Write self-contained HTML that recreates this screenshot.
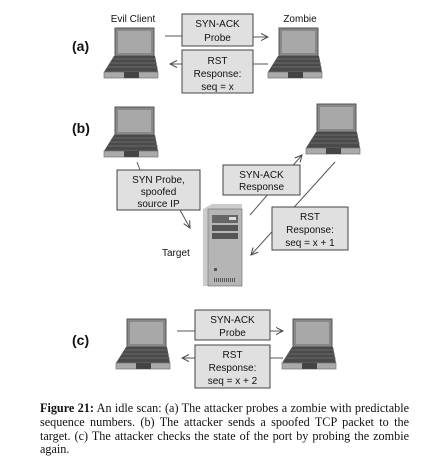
<!DOCTYPE html>
<html><head><meta charset="utf-8"><style>
html,body{margin:0;padding:0;background:#fff;width:448px;height:465px;overflow:hidden}
svg{position:absolute;left:0;top:0}
text{font-family:"Liberation Sans",sans-serif;font-size:10px;fill:#111}
.b{font-weight:bold;font-size:14px}
.cap{position:absolute;left:40px;top:402px;width:369px;font-family:"Liberation Serif",serif;font-size:12.2px;line-height:13.8px;text-align:justify;color:#111}
</style></head><body>
<svg width="448" height="400" viewBox="0 0 448 400">
<defs>
<marker id="ar" markerWidth="8" markerHeight="8" refX="7" refY="4" orient="auto" markerUnits="userSpaceOnUse"><path d="M0,0.5 L7,4 L0,7.5" fill="none" stroke="#444" stroke-width="1"/></marker>
<g id="lap">
<rect x="11" y="0" width="39" height="28" fill="#888" stroke="#555" stroke-width="1"/>
<rect x="14" y="3" width="33" height="22" fill="#a8a8a8"/>
<path d="M10,28 L51,28 L54,44 L0,44 Z" fill="#4a4a4a"/>
<path d="M8,31 L52,31 M6,35 L53,35 M4,39 L54,39" stroke="#777" stroke-width="0.8"/>
<path d="M0,44 L54,44 L54,50 L0,50 Z" fill="#aaa" stroke="#777" stroke-width="0.7"/>
<rect x="20" y="44" width="15" height="6" fill="#444"/>
</g>
</defs>
<g stroke="#555" stroke-width="1" fill="none">
<line x1="165" y1="36" x2="182" y2="36"/>
<line x1="253" y1="37" x2="268" y2="37" marker-end="url(#ar)"/>
<line x1="182" y1="64" x2="170" y2="64" marker-end="url(#ar)"/>
<line x1="253" y1="64" x2="268" y2="64"/>
<line x1="137" y1="162" x2="140" y2="170"/>
<line x1="180" y1="210" x2="190" y2="228" marker-end="url(#ar)"/>
<line x1="250" y1="215" x2="302" y2="155" marker-end="url(#ar)"/>
<line x1="335" y1="162" x2="251" y2="255" marker-end="url(#ar)"/>
<line x1="177" y1="331" x2="195" y2="331"/>
<line x1="270" y1="331" x2="283" y2="331" marker-end="url(#ar)"/>
<line x1="195" y1="358" x2="182" y2="358" marker-end="url(#ar)"/>
<line x1="270" y1="358" x2="283" y2="358"/>
</g>
<use href="#lap" x="104" y="28"/>
<use href="#lap" x="268" y="28"/>
<use href="#lap" x="104" y="107"/>
<use href="#lap" x="306" y="104"/>
<use href="#lap" x="116" y="319"/>
<use href="#lap" x="282" y="319"/>
<g>
<path d="M203,209 L212,204 L242,204 L242,286 L203,286 Z" fill="#ccc"/>
<rect x="208" y="209" width="34" height="77" fill="#b5b5b5" stroke="#777" stroke-width="0.7"/>
<rect x="212" y="215" width="26" height="8" fill="#666"/>
<rect x="229" y="217" width="7" height="3" fill="#ddd"/>
<rect x="212" y="225" width="26" height="6" fill="#555"/>
<rect x="212" y="233" width="26" height="6" fill="#555"/>
<rect x="214" y="268" width="3" height="3" fill="#555"/>
<path d="M214,280 h22" stroke="#555" stroke-width="4" stroke-dasharray="1,1"/>
</g>
<g fill="#e0e0e0" stroke="#444" stroke-width="1">
<rect x="182" y="14" width="71" height="32"/>
<rect x="182" y="50" width="71" height="43"/>
<rect x="117" y="170" width="83" height="40"/>
<rect x="223" y="165" width="77" height="30"/>
<rect x="272" y="207" width="76" height="43"/>
<rect x="195" y="310" width="75" height="30"/>
<rect x="195" y="345" width="75" height="43"/>
</g>
<text x="133" y="22" text-anchor="middle">Evil Client</text>
<text x="300" y="22" text-anchor="middle">Zombie</text>
<text x="72" y="51" class="b">(a)</text>
<text x="72" y="133" class="b">(b)</text>
<text x="72" y="345" class="b">(c)</text>
<g text-anchor="middle">
<text x="217.5" y="27">SYN-ACK</text><text x="217.5" y="41">Probe</text>
<text x="217.5" y="64">RST</text><text x="217.5" y="77">Response:</text><text x="217.5" y="90">seq = x</text>
<text x="158.5" y="183">SYN Probe,</text><text x="158.5" y="195">spoofed</text><text x="158.5" y="207">source IP</text>
<text x="261.5" y="178">SYN-ACK</text><text x="261.5" y="190">Response</text>
<text x="310" y="220">RST</text><text x="310" y="233">Response:</text><text x="310" y="246">seq = x + 1</text>
<text x="232.5" y="323">SYN-ACK</text><text x="232.5" y="336">Probe</text>
<text x="232.5" y="358">RST</text><text x="232.5" y="371">Response:</text><text x="232.5" y="384">seq = x + 2</text>
</g>
<text x="162" y="256">Target</text>
</svg>
<div class="cap"><b>Figure 21:</b> An idle scan: (a) The attacker probes a zombie with predictable sequence numbers. (b) The attacker sends a spoofed TCP packet to the target. (c) The attacker checks the state of the port by probing the zombie again.</div>
</body></html>
